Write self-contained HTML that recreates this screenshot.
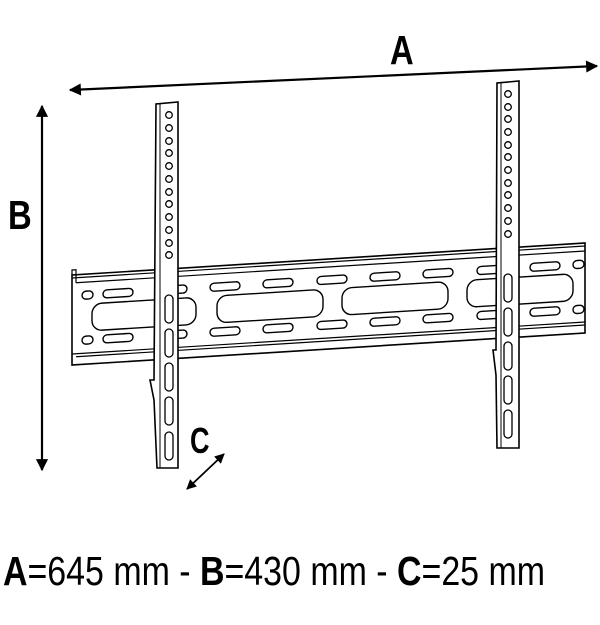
<!DOCTYPE html>
<html><head><meta charset="utf-8"><style>
html,body{margin:0;padding:0;background:#fff;}
svg{display:block;}
</style></head><body>
<svg width="600" height="625" viewBox="0 0 600 625" xmlns="http://www.w3.org/2000/svg" font-family="Liberation Sans, sans-serif">
<defs>
<marker id="ah" viewBox="0 0 10 10" refX="9" refY="5" markerWidth="8" markerHeight="5.5" orient="auto-start-reverse" markerUnits="strokeWidth">
<path d="M0,0 L10,5 L0,10 z" fill="#000"/></marker>
</defs>
<!-- Dimension A -->
<line x1="70" y1="90" x2="597" y2="66" stroke="#000" stroke-width="2.2" marker-start="url(#ah)" marker-end="url(#ah)"/>
<text x="390" y="64" font-size="41" font-weight="bold" transform="translate(390 0) scale(0.8 1) translate(-390 0)">A</text>
<!-- Dimension B -->
<line x1="42" y1="106" x2="42" y2="470" stroke="#000" stroke-width="2.2" marker-start="url(#ah)" marker-end="url(#ah)"/>
<text x="8" y="229" font-size="41" font-weight="bold" transform="translate(8 0) scale(0.8 1) translate(-8 0)">B</text>
<!-- Rail -->
<g transform="translate(72,275) skewY(-3.57)" fill="#fff" stroke="#000" stroke-width="1.6">
  <rect x="0" y="0" width="513" height="90"/>
  <path d="M0,3 H513 M4,8 H513 M0,79 H513 M4,82 H513" fill="none" stroke-width="1.2"/>
  <path d="M0,0 L0,-5 L4,-5 L4,8" fill="none" stroke-width="1.2"/>
  <g stroke-width="1.4">
    <rect x="10" y="17" width="11" height="8" rx="4"/>
    <rect x="10" y="62" width="11" height="8" rx="4"/>
    <rect x="501" y="17" width="11" height="8" rx="4"/>
    <rect x="501" y="62" width="11" height="8" rx="4"/>
    <rect x="31" y="17" width="30" height="8" rx="4"/><rect x="31" y="62" width="30" height="8" rx="4"/>
    <rect x="85" y="17" width="30" height="8" rx="4"/><rect x="85" y="62" width="30" height="8" rx="4"/>
    <rect x="138" y="17" width="30" height="8" rx="4"/><rect x="138" y="62" width="30" height="8" rx="4"/>
    <rect x="191" y="17" width="30" height="8" rx="4"/><rect x="191" y="62" width="30" height="8" rx="4"/>
    <rect x="245" y="17" width="30" height="8" rx="4"/><rect x="245" y="62" width="30" height="8" rx="4"/>
    <rect x="298" y="17" width="30" height="8" rx="4"/><rect x="298" y="62" width="30" height="8" rx="4"/>
    <rect x="351" y="17" width="30" height="8" rx="4"/><rect x="351" y="62" width="30" height="8" rx="4"/>
    <rect x="405" y="17" width="30" height="8" rx="4"/><rect x="405" y="62" width="30" height="8" rx="4"/>
    <rect x="458" y="17" width="30" height="8" rx="4"/><rect x="458" y="62" width="30" height="8" rx="4"/>
    <rect x="20" y="30" width="104" height="27" rx="10"/>
    <rect x="145" y="30" width="106" height="27" rx="10"/>
    <rect x="270" y="30" width="106" height="27" rx="10"/>
    <rect x="395" y="30" width="106" height="27" rx="10"/>
  </g>
</g>
<!-- Left bracket -->
<g stroke="#000" fill="#fff" stroke-width="1.6">
  <path d="M156,104 L154,380 L150,380 L154,400 L157,468 L178,468 L178,102 Z"/>
  <line x1="160" y1="104" x2="160" y2="468" stroke-width="1"/>
  <g fill="#fff" stroke-width="1.3">
    <circle cx="169" cy="115" r="3.3"/><circle cx="169" cy="128" r="3.3"/><circle cx="169" cy="141" r="3.3"/><circle cx="169" cy="153" r="3.3"/><circle cx="169" cy="166" r="3.3"/><circle cx="169" cy="179" r="3.3"/><circle cx="169" cy="192" r="3.3"/><circle cx="169" cy="204" r="3.3"/><circle cx="169" cy="217" r="3.3"/><circle cx="169" cy="230" r="3.3"/><circle cx="169" cy="243" r="3.3"/><circle cx="169" cy="255" r="3.3"/>
    <rect x="165" y="295" width="8" height="28" rx="4"/>
    <rect x="165" y="329" width="8" height="28" rx="4"/>
    <rect x="165" y="363" width="8" height="28" rx="4"/>
    <rect x="165" y="397" width="8" height="28" rx="4"/>
    <rect x="165" y="432" width="8" height="28" rx="4"/>
  </g>
</g>
<!-- Right bracket -->
<g stroke="#000" fill="#fff" stroke-width="1.6">
  <path d="M497,83 L496,350 L493,350 L496,375 L497,448 L519,448 L519,81 Z"/>
  <line x1="501" y1="83" x2="501" y2="448" stroke-width="1"/>
  <g fill="#fff" stroke-width="1.3">
    <circle cx="508" cy="94" r="3.3"/><circle cx="508" cy="107" r="3.3"/><circle cx="508" cy="119" r="3.3"/><circle cx="508" cy="132" r="3.3"/><circle cx="508" cy="145" r="3.3"/><circle cx="508" cy="157" r="3.3"/><circle cx="508" cy="170" r="3.3"/><circle cx="508" cy="183" r="3.3"/><circle cx="508" cy="195" r="3.3"/><circle cx="508" cy="208" r="3.3"/><circle cx="508" cy="221" r="3.3"/><circle cx="508" cy="234" r="3.3"/>
    <rect x="504" y="274" width="8" height="28" rx="4"/>
    <rect x="504" y="308" width="8" height="28" rx="4"/>
    <rect x="504" y="342" width="8" height="28" rx="4"/>
    <rect x="504" y="376" width="8" height="28" rx="4"/>
    <rect x="504" y="410" width="8" height="28" rx="4"/>
  </g>
</g>
<!-- Dimension C -->
<line x1="187" y1="489" x2="224" y2="454" stroke="#000" stroke-width="1.8" marker-start="url(#ah)" marker-end="url(#ah)"/>
<text x="190" y="453" font-size="36" font-weight="bold" transform="translate(190 0) scale(0.75 1) translate(-190 0)">C</text>
<!-- Caption -->
<text x="3" y="585" font-size="41" textLength="542" lengthAdjust="spacingAndGlyphs"><tspan font-weight="bold">A</tspan>=645 mm - <tspan font-weight="bold">B</tspan>=430 mm - <tspan font-weight="bold">C</tspan>=25 mm</text>
</svg>
</body></html>
